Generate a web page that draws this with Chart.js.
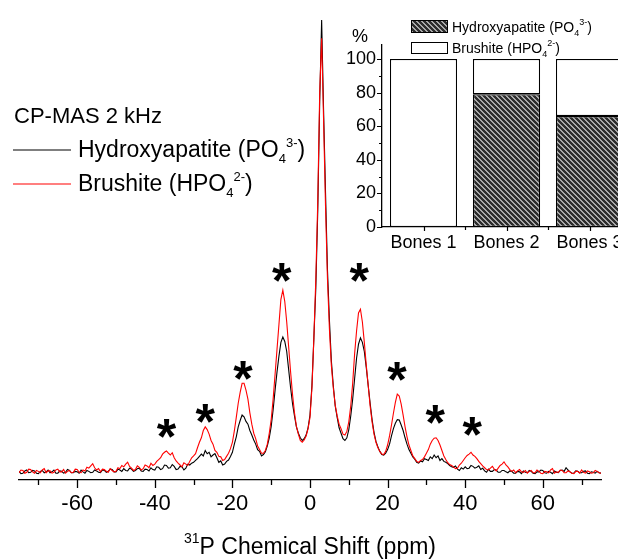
<!DOCTYPE html>
<html>
<head>
<meta charset="utf-8">
<script src="https://cdn.jsdelivr.net/npm/chart.js@4.4.1/dist/chart.umd.min.js"></script>
<style>
html, body { margin: 0; padding: 0; background: #fff; overflow: hidden; width: 618px; height: 559px; }
#main { position: absolute; left: 0; top: 0; width: 618px; height: 559px; }
#inset { position: absolute; left: 340px; top: 0; width: 291px; height: 255px; }
</style>
</head>
<body>
<div id="main"><canvas id="spec"></canvas></div>
<div id="inset"><canvas id="bars"></canvas></div>
<script>
// 31P shift axis (ppm) and the two spectra
const shift = [-75,-74.5,-74,-73.5,-73,-72.5,-72,-71.5,-71,-70.5,-70,-69.5,-69,-68.5,-68,-67.5,-67,-66.5,-66,-65.5,
  -65,-64.5,-64,-63.5,-63,-62.5,-62,-61.5,-61,-60.5,-60,-59.5,-59,-58.5,-58,-57.5,-57,-56.5,-56,-55.5,
  -55,-54.5,-54,-53.5,-53,-52.5,-52,-51.5,-51,-50.5,-50,-49.5,-49,-48.5,-48,-47.5,-47,-46.5,-46,-45.5,
  -45,-44.5,-44,-43.5,-43,-42.5,-42,-41.5,-41,-40.5,-40,-39.5,-39,-38.5,-38,-37.5,-37,-36.5,-36,-35.5,
  -35,-34.5,-34,-33.5,-33,-32.5,-32,-31.5,-31,-30.5,-30,-29.5,-29,-28.5,-28,-27.5,-27,-26.5,-26,-25.5,
  -25,-24.5,-24,-23.5,-23,-22.5,-22,-21.5,-21,-20.5,-20,-19.5,-19,-18.5,-18,-17.5,-17,-16.5,-16,-15.5,
  -15,-14.5,-14,-13.5,-13,-12.5,-12,-11.5,-11,-10.5,-10,-9.5,-9,-8.5,-8,-7.5,-7,-6.5,-6,-5.5,
  -5,-4.5,-4,-3.5,-3,-2.5,-2,-1.5,-1,-0.5,0,0.5,1,1.5,2,2.5,3,3.5,4,4.5,
  5,5.5,6,6.5,7,7.5,8,8.5,9,9.5,10,10.5,11,11.5,12,12.5,13,13.5,14,14.5,
  15,15.5,16,16.5,17,17.5,18,18.5,19,19.5,20,20.5,21,21.5,22,22.5,23,23.5,24,24.5,
  25,25.5,26,26.5,27,27.5,28,28.5,29,29.5,30,30.5,31,31.5,32,32.5,33,33.5,34,34.5,
  35,35.5,36,36.5,37,37.5,38,38.5,39,39.5,40,40.5,41,41.5,42,42.5,43,43.5,44,44.5,
  45,45.5,46,46.5,47,47.5,48,48.5,49,49.5,50,50.5,51,51.5,52,52.5,53,53.5,54,54.5,
  55,55.5,56,56.5,57,57.5,58,58.5,59,59.5,60,60.5,61,61.5,62,62.5,63,63.5,64,64.5,
  65,65.5,66,66.5,67,67.5,68,68.5,69,69.5,70,70.5,71,71.5,72,72.5,73,73.5,74,74.5,
  75];

const hydroxyapatite = [0.6,0.1,0.2,0.7,0.9,0.3,0.4,0.8,0.7,0.2,0.1,0.6,0.8,0.3,0.5,0.9,0.3,0.5,0.9,0.2,
  0.2,0.7,0.6,0.2,0.4,1.0,0.8,0.3,0.3,0.6,0.5,0.2,0.9,0.5,0.2,0.8,0.6,0.3,0.4,0.9,
  0.7,0.4,0.3,0.9,0.8,0.4,0.6,1.1,1.0,0.5,0.5,1.1,0.9,0.6,1.2,0.8,0.7,1.3,1.1,0.6,
  0.8,1.2,1.3,0.7,0.6,1.1,1.0,0.7,1.4,1.0,0.9,1.6,1.5,1.0,1.2,2.0,1.9,1.3,1.4,2.1,
  1.7,1.0,1.1,1.7,1.6,0.9,1.3,2.2,2.0,2.4,2.6,3.0,3.4,3.9,4.4,4.0,5.2,4.5,4.8,3.8,
  4.2,4.5,3.6,2.6,2.9,2.0,2.2,2.8,3.1,3.9,4.8,6.6,8.2,10.4,11.8,13.0,12.6,11.6,11.0,9.6,
  8.6,7.5,6.6,5.4,5.0,4.0,4.3,4.9,6.2,8.0,10.5,14.2,18.5,22.5,26.0,29.0,30.2,29.2,27.0,23.0,
  19.0,15.5,12.8,10.4,9.0,8.0,7.4,7.8,8.6,10.2,13.0,19.5,30.0,41.0,58.0,82.0,100.0,80.0,62.0,45.0,
  34.0,25.0,19.5,15.0,12.5,10.2,9.0,7.8,7.4,8.0,9.8,12.8,16.5,21.0,25.5,28.6,30.0,29.0,27.0,23.5,
  19.5,15.6,12.0,9.2,7.2,6.0,5.0,4.3,4.2,4.6,5.4,6.6,8.4,10.0,11.2,12.0,11.9,10.8,9.6,8.0,
  6.6,5.4,4.6,3.8,3.3,2.6,2.4,2.9,2.7,3.4,3.2,3.0,3.8,3.4,4.2,3.6,4.0,3.0,3.4,2.8,
  2.6,2.3,1.9,1.6,1.5,1.8,1.1,0.8,1.4,1.1,1.6,1.2,1.3,1.9,1.7,1.3,1.5,1.8,1.0,1.3,
  0.7,0.4,1.1,0.6,0.6,1.0,0.9,0.4,0.4,0.8,0.8,0.5,0.3,0.7,0.6,0.2,0.2,0.6,0.5,0.1,
  0.7,0.4,0.3,0.8,0.6,0.2,0.1,0.5,0.5,0.9,0.8,0.3,0.2,0.6,0.4,0.1,0.7,0.4,0.3,0.8,
  0.9,0.6,1.4,0.9,0.5,0.2,0.2,0.7,0.6,0.3,0.3,0.6,0.7,0.2,0.1,0.5,0.4,0.2,0.6,0.3,
  0.2];

const brushite = [0.3,0.9,0.8,0.2,0.4,1.1,1.0,0.5,0.2,0.8,0.6,0.3,0.9,1.2,0.3,0.7,0.7,0.2,0.4,0.9,
  1.1,0.5,0.5,1.0,0.2,0.6,0.8,0.3,0.4,1.1,1.0,0.4,0.3,0.9,0.7,1.5,1.3,1.8,2.3,1.4,
  0.9,1.2,0.5,1.1,1.0,0.6,0.4,1.2,0.8,0.5,0.6,1.4,1.2,1.9,1.6,2.2,2.6,1.7,1.3,0.8,
  1.0,1.8,1.5,0.9,1.2,2.0,1.8,1.4,2.4,1.9,2.2,2.8,3.2,3.6,4.4,4.8,5.1,4.6,4.2,4.7,
  3.6,2.9,2.4,2.0,1.6,2.5,2.2,1.9,2.8,3.6,4.0,4.5,5.8,7.0,8.0,9.6,10.4,9.8,8.8,7.4,
  6.6,5.2,4.8,3.9,3.8,3.0,3.2,3.9,4.6,5.6,7.0,9.5,12.5,15.6,18.0,20.0,20.0,18.5,16.5,13.5,
  11.0,9.0,7.8,6.2,5.4,4.6,4.6,5.2,6.6,9.0,12.0,16.5,22.0,27.5,33.0,38.5,40.5,38.0,33.5,28.0,
  22.5,17.5,13.5,10.5,8.8,7.4,7.0,7.5,8.4,10.0,12.5,19.0,30.0,43.0,60.0,84.0,96.0,78.0,59.0,43.0,
  32.0,24.0,19.0,15.2,12.8,11.0,10.0,8.8,8.6,9.4,11.5,15.0,20.0,26.5,31.5,35.5,36.3,33.5,29.0,24.0,
  19.5,15.0,11.5,8.8,7.0,5.8,5.0,4.4,4.3,5.0,6.4,8.4,10.8,13.4,15.8,17.6,17.2,15.4,13.0,10.4,
  8.2,6.4,5.2,4.0,3.4,2.8,2.6,3.0,3.2,3.8,4.6,5.4,6.6,7.4,7.9,8.0,7.4,6.4,5.2,4.0,
  3.2,2.5,2.1,1.9,1.6,1.2,1.3,2.0,2.4,3.0,3.6,4.1,4.4,4.8,4.2,3.9,3.4,2.8,2.3,1.8,
  1.4,1.0,0.9,1.3,1.7,1.1,0.7,1.3,1.9,2.2,2.7,2.0,1.6,1.0,0.6,0.9,0.3,0.7,1.0,0.5,
  0.4,0.8,0.2,0.6,0.8,0.3,0.3,0.9,0.6,0.2,0.1,0.6,0.5,0.3,0.9,1.2,0.2,0.5,0.4,0.9,
  0.8,0.3,0.3,0.7,0.5,0.2,0.1,0.6,0.6,0.2,0.9,0.4,0.2,0.7,0.5,0.2,0.3,0.8,0.6,0.3,
  0.2];

// spinning sidebands marked with an asterisk
const sidebandPpm = [-37, -27, -17.3, -7.3, 12.7, 22.4, 32.3, 41.8];
const sidebandMark = [10.1, 13.4, 22.9, 44.3, 44.3, 22.7, 13.2, 10.4];

const shiftMajorTicks = [-60, -40, -20, 0, 20, 40, 60];
const shiftMinorTicks = [-70, -50, -30, -10, 10, 30, 50, 70];

// inset: composition of the bone samples (%)
const bones = ["Bones 1", "Bones 2", "Bones 3"];
const hydroxyShare = [0, 79, 66];
const brushiteShare = [100, 21, 34];
const pctMajorTicks = [0, 20, 40, 60, 80, 100];
const pctMinorTicks = [10, 30, 50, 70, 90];

const FONT = '"Liberation Sans", Arial, Helvetica, sans-serif';

function drawRich(ctx, x, y, parts)
{
    for (const [text, size, dy] of parts) {
        ctx.font = size + "px " + FONT;
        ctx.fillText(text, x, y + dy);
        x += ctx.measureText(text).width;
    }
    return x;
}

function richWidth(ctx, parts)
{
    let w = 0;
    for (const [text, size] of parts) {
        ctx.font = size + "px " + FONT;
        w += ctx.measureText(text).width;
    }
    return w;
}

function makeHatch()
{
    const c = document.createElement("canvas");
    c.width = 5;
    c.height = 5;
    const g = c.getContext("2d");
    g.fillStyle = "#2c2c2c";
    g.fillRect(0, 0, 5, 5);
    g.fillStyle = "#a8a8a8";
    for (let i = 0; i < 5; i++) {
        g.fillRect(i, i, 1, 1);
        g.fillRect((i + 1) % 5, i, 1, 1);
    }
    return g.createPattern(c, "repeat");
}
const hatch = makeHatch();

const specDecor = {
    id: "specDecor",
    afterDraw(chart)
    {
        const ctx = chart.ctx;
        const xs = chart.scales.x, ys = chart.scales.y;
        const bottom = chart.chartArea.bottom;
        ctx.save();
        ctx.fillStyle = "#000";
        ctx.strokeStyle = "#000";
        ctx.textAlign = "left";
        ctx.textBaseline = "alphabetic";

        // tick marks
        ctx.lineWidth = 1.3;
        ctx.beginPath();
        for (const v of shiftMajorTicks) {
            const px = Math.round(xs.getPixelForValue(v)) + 0.5;
            ctx.moveTo(px, bottom); ctx.lineTo(px, bottom + 8);
        }
        for (const v of shiftMinorTicks) {
            const px = Math.round(xs.getPixelForValue(v)) + 0.5;
            ctx.moveTo(px, bottom); ctx.lineTo(px, bottom + 5);
        }
        ctx.stroke();

        // legend block
        ctx.font = "22px " + FONT;
        ctx.fillText("CP-MAS 2 kHz", 14, 123);
        ctx.lineWidth = 1.2;
        ctx.strokeStyle = "#000";
        ctx.beginPath(); ctx.moveTo(13, 150); ctx.lineTo(71, 150); ctx.stroke();
        drawRich(ctx, 78, 157, [["Hydroxyapatite (PO", 23, 0], ["4", 13, 6], ["3-", 13, -10], [")", 23, 0]]);
        ctx.strokeStyle = "#ff0000";
        ctx.beginPath(); ctx.moveTo(13, 184); ctx.lineTo(71, 184); ctx.stroke();
        drawRich(ctx, 78, 191, [["Brushite (HPO", 23, 0], ["4", 13, 6], ["2-", 13, -10], [")", 23, 0]]);

        // sideband asterisks
        ctx.font = "bold 50px " + FONT;
        ctx.textAlign = "center";
        const m = ctx.measureText("*");
        const off = (m.actualBoundingBoxAscent - m.actualBoundingBoxDescent) / 2;
        sidebandPpm.forEach((p, i) => {
            ctx.fillText("*", xs.getPixelForValue(p), ys.getPixelForValue(sidebandMark[i]) + off);
        });

        // axis title with superscript
        ctx.textAlign = "left";
        const title = [["31", 14, -11], ["P Chemical Shift (ppm)", 23, 0]];
        const w = richWidth(ctx, title);
        drawRich(ctx, 310 - w / 2, 554, title);
        ctx.restore();
    }
};

new Chart(document.getElementById("spec"), {
    type: "line",
    data: {
        datasets: [{
            label: "Brushite",
            data: shift.map((x, i) => ({ x, y: brushite[i] })),
            borderColor: "#ff0000",
            borderWidth: 1.1,
            pointRadius: 0,
            tension: 0
        }, {
            label: "Hydroxyapatite",
            data: shift.map((x, i) => ({ x, y: hydroxyapatite[i] })),
            borderColor: "#000000",
            borderWidth: 1.1,
            pointRadius: 0,
            tension: 0
        }]
    },
    options: {
        responsive: true,
        maintainAspectRatio: false,
        animation: false,
        layout: { padding: { left: 19, right: 17, top: 10, bottom: 0 } },
        plugins: { legend: { display: false }, tooltip: { enabled: false } },
        scales: {
            x: {
                type: "linear",
                min: -75,
                max: 75,
                afterBuildTicks: s => { s.ticks = shiftMajorTicks.map(v => ({ value: v })); },
                afterFit: s => { s.height = 79; },
                grid: { display: false, drawTicks: false },
                border: { display: true, color: "#000", width: 1.3 },
                ticks: {
                    color: "#000",
                    font: { family: FONT, size: 22 },
                    padding: 11,
                    maxRotation: 0,
                    autoSkip: false,
                    callback: v => String(v)
                }
            },
            y: { display: false, min: -1.3, max: 102.2 }
        }
    },
    plugins: [specDecor]
});

const insetDecor = {
    id: "insetDecor",
    afterDraw(chart)
    {
        const ctx = chart.ctx;
        const xs = chart.scales.x, ys = chart.scales.y;
        const { left, bottom } = chart.chartArea;
        ctx.save();
        ctx.fillStyle = "#000";
        ctx.strokeStyle = "#000";
        ctx.lineWidth = 1.2;

        ctx.beginPath();
        for (const v of pctMajorTicks) {
            const py = Math.round(ys.getPixelForValue(v)) + 0.5;
            ctx.moveTo(left - 5, py); ctx.lineTo(left, py);
        }
        for (const v of pctMinorTicks) {
            const py = Math.round(ys.getPixelForValue(v)) + 0.5;
            ctx.moveTo(left - 3, py); ctx.lineTo(left, py);
        }
        bones.forEach((b, i) => {
            const px = Math.round(xs.getPixelForValue(i)) + 0.5;
            ctx.moveTo(px, bottom); ctx.lineTo(px, bottom + 4);
            if (i > 0) {
                const pb = Math.round((xs.getPixelForValue(i) + xs.getPixelForValue(i - 1)) / 2) + 0.5;
                ctx.moveTo(pb, bottom); ctx.lineTo(pb, bottom + 3);
            }
        });
        ctx.stroke();

        // unit label
        ctx.font = "18px " + FONT;
        ctx.textAlign = "center";
        ctx.fillText("%", 20, 42);

        // legend
        ctx.textAlign = "left";
        ctx.lineWidth = 1;
        ctx.fillStyle = hatch;
        ctx.fillRect(71, 20, 36, 12);
        ctx.strokeRect(71.5, 20.5, 36, 12);
        ctx.fillStyle = "#fff";
        ctx.fillRect(71, 42, 36, 11);
        ctx.strokeRect(71.5, 42.5, 36, 11);
        ctx.fillStyle = "#000";
        drawRich(ctx, 112, 32, [["Hydroxyapatite (PO", 14, 0], ["4", 9, 4], ["3-", 9, -7], [")", 14, 0]]);
        drawRich(ctx, 112, 53, [["Brushite (HPO", 14, 0], ["4", 9, 4], ["2-", 9, -7], [")", 14, 0]]);
        ctx.restore();
    }
};

new Chart(document.getElementById("bars"), {
    type: "bar",
    data: {
        labels: bones,
        datasets: [{
            label: "Hydroxyapatite",
            data: hydroxyShare,
            backgroundColor: hatch,
            borderColor: "#000",
            borderWidth: 1.3,
            borderSkipped: false
        }, {
            label: "Brushite",
            data: brushiteShare,
            backgroundColor: "#fff",
            borderColor: "#000",
            borderWidth: 1.3,
            borderSkipped: false
        }]
    },
    options: {
        responsive: true,
        maintainAspectRatio: false,
        animation: false,
        layout: { padding: { left: 0, right: 0, top: 45, bottom: 0 } },
        plugins: { legend: { display: false }, tooltip: { enabled: false } },
        datasets: { bar: { barPercentage: 0.81, categoryPercentage: 1 } },
        scales: {
            x: {
                stacked: true,
                afterFit: s => { s.height = 28; },
                grid: { display: false, drawTicks: false },
                border: { display: true, color: "#000", width: 1.3 },
                ticks: { color: "#000", font: { family: FONT, size: 18 }, padding: 5, maxRotation: 0, autoSkip: false }
            },
            y: {
                stacked: true,
                min: 0,
                max: 108.3,
                afterBuildTicks: s => { s.ticks = pctMajorTicks.map(v => ({ value: v })); },
                afterFit: s => { s.width = 42; },
                grid: { display: false, drawTicks: false },
                border: { display: true, color: "#000", width: 1.3 },
                ticks: { color: "#000", font: { family: FONT, size: 18 }, padding: 6 }
            }
        }
    },
    plugins: [insetDecor]
});
</script>
</body>
</html>
